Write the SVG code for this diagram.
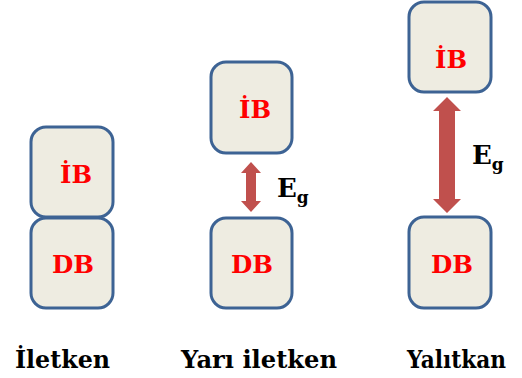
<svg xmlns="http://www.w3.org/2000/svg" width="522" height="378" viewBox="0 0 522 378">
<style>
.box{fill:#eeece1;stroke:#3d6394;stroke-width:3}
text{font-family:'DejaVu Serif',serif;font-weight:bold}
.bt{font-size:25px;fill:#ff0000}
.lb{font-size:25px;fill:#000}
.eg{font-size:26px;fill:#000}
.arr{fill:#c0504d}
</style>
<rect width="522" height="378" fill="#fff"/>
<g id="iletken-db"><rect class="box" x="31" y="218" width="82" height="90" rx="15"/><text class="bt" x="52" y="273" textLength="42" lengthAdjust="spacingAndGlyphs">DB</text></g>
<g id="iletken-ib"><rect class="box" x="31" y="127" width="82" height="90" rx="15"/><text class="bt" x="60" y="183" textLength="32" lengthAdjust="spacingAndGlyphs">İB</text></g>
<g id="yari-ib"><rect class="box" x="211" y="62" width="81" height="91" rx="15"/><text class="bt" x="239" y="118" textLength="32" lengthAdjust="spacingAndGlyphs">İB</text></g>
<g id="yari-db"><rect class="box" x="211" y="218" width="81" height="90" rx="15"/><text class="bt" x="231" y="273" textLength="42" lengthAdjust="spacingAndGlyphs">DB</text></g>
<g id="yalitkan-ib"><rect class="box" x="409" y="2" width="82" height="90" rx="15"/><text class="bt" x="435" y="68" textLength="32" lengthAdjust="spacingAndGlyphs">İB</text></g>
<g id="yalitkan-db"><rect class="box" x="409" y="217" width="82" height="91" rx="15"/><text class="bt" x="431" y="273" textLength="42" lengthAdjust="spacingAndGlyphs">DB</text></g>
<g id="connectors">
<polygon class="arr" points="251,162 261,173 256,173 256,201 261,201 251,212 241,201 246,201 246,173 241,173"/>
<polygon class="arr" points="447,97 461,111 455,111 455,199 461,199 447,213 433,199 439,199 439,111 433,111"/>
</g>
<text class="eg" x="277" y="197">E<tspan font-size="17" dy="6">g</tspan></text>
<text class="eg" x="472" y="164">E<tspan font-size="17" dy="6">g</tspan></text>
<text class="lb" x="15" y="368" textLength="95" lengthAdjust="spacingAndGlyphs">İletken</text>
<text class="lb" x="181" y="368" textLength="156" lengthAdjust="spacingAndGlyphs">Yarı iletken</text>
<text class="lb" x="407" y="368" font-size="23" textLength="99" lengthAdjust="spacingAndGlyphs">Yalıtkan</text>
</svg>
